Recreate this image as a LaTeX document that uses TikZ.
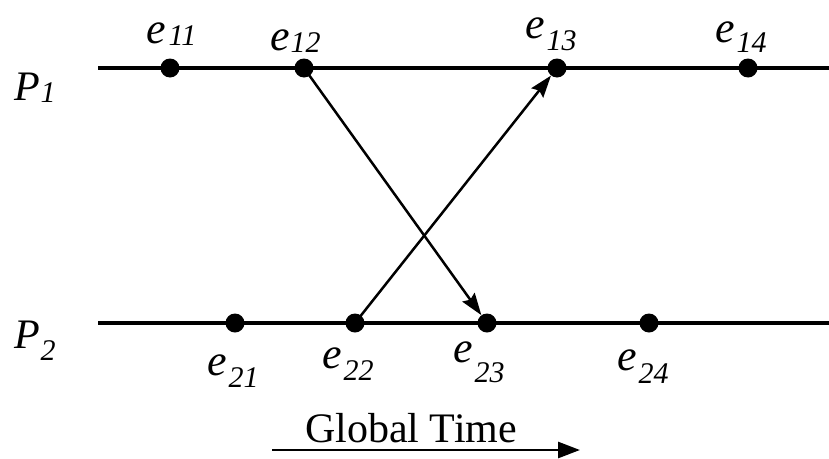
\documentclass[tikz,border=0pt]{standalone}
\usepackage{fontspec}
\setmainfont{Liberation Serif}[ItalicFont={Liberation Serif Italic}]
\usetikzlibrary{arrows.meta}
\newcommand{\evlab}[3]{\fontsize{44}{46}\selectfont\itshape e\kern#1pt\raisebox{-#2pt}{\fontsize{30}{32}\selectfont #3}}
\newcommand{\plab}[2]{\fontsize{42}{44}\selectfont\itshape P\kern1pt\raisebox{-#1pt}{\fontsize{30}{32}\selectfont #2}}
\tikzset{
  evdot/.style={circle,fill=black,inner sep=0pt,minimum size=19pt},
  timeline/.style={line width=3.4pt},
  msg/.style={line width=2.5pt,-{Stealth[length=22pt,width=15pt,inset=3pt]}},
  lab/.style={anchor=base west,inner sep=0pt,outer sep=0pt},
}
\begin{document}
\begin{tikzpicture}[x=1pt,y=-1pt]
\useasboundingbox (0,0) rectangle (829,458);
% process lines
\coordinate (p1s) at (98,68);
\coordinate (p1e) at (829,68);
\coordinate (p2s) at (98,323);
\coordinate (p2e) at (829,323);
\draw[timeline] (p1s) -- (p1e);
\draw[timeline] (p2s) -- (p2e);
% events
\node[evdot] (e11) at (170,68) {};
\node[evdot] (e12) at (304,68) {};
\node[evdot] (e13) at (557,68) {};
\node[evdot] (e14) at (748,68) {};
\node[evdot] (e21) at (235,323) {};
\node[evdot] (e22) at (355,323) {};
\node[evdot] (e23) at (487,323) {};
\node[evdot] (e24) at (649,323) {};
% messages
\draw[msg] (e12.center) -- (e23);
\draw[msg] (e22.center) -- (e13);
% process labels
\node[lab] (lp1) at (14,100) {\plab{2}{1}};
\node[lab] (lp2) at (14,348) {\plab{12}{2}};
% event labels
\node[lab] (l11) at (146,43) {\evlab{3}{2}{11}};
\node[lab] (l12) at (270,50) {\evlab{1}{2}{12}};
\node[lab] (l13) at (525,38) {\evlab{2}{12}{13}};
\node[lab] (l14) at (715,42) {\evlab{2}{10}{14}};
\node[lab] (l21) at (207,375) {\evlab{2}{12}{21}};
\node[lab] (l22) at (322,368) {\evlab{2}{12}{22}};
\node[lab] (l23) at (453,362) {\evlab{2}{20}{23}};
\node[lab] (l24) at (617,370) {\evlab{2}{13}{24}};
% global time
\coordinate (gts) at (272,450);
\coordinate (gte) at (580,450);
\draw[line width=2.8pt,-{Triangle[length=22pt,width=16pt]}] (gts) -- (gte);
\node[anchor=base,inner sep=0pt] (gt) at (411,442) {\fontsize{42}{46}\selectfont Global Time};
\end{tikzpicture}
\end{document}
